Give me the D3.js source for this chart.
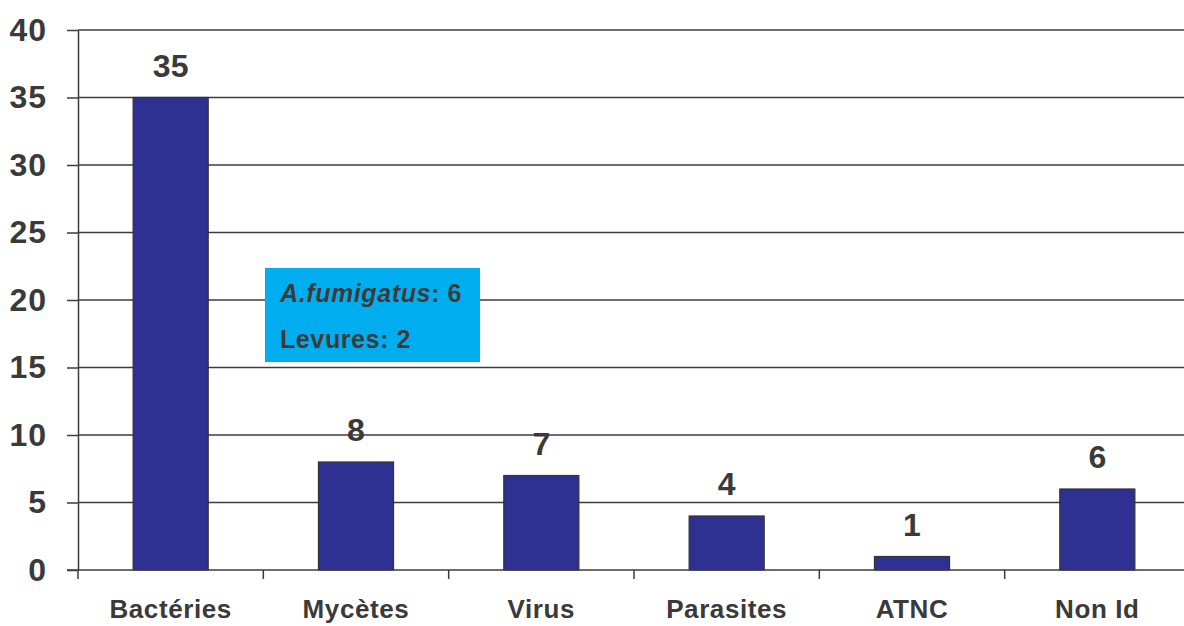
<!DOCTYPE html>
<html>
<head>
<meta charset="utf-8">
<script src="https://cdn.jsdelivr.net/npm/d3@7"></script>
<style>
  body { margin: 0; background: #fff; }
  svg { display: block; font-family: "Liberation Sans", Arial, sans-serif; }
</style>
</head>
<body>
<svg></svg>
<script>
let categories = ["Bactéries", "Mycètes", "Virus", "Parasites", "ATNC", "Non Id"];
let counts = [35, 8, 7, 4, 1, 6];
let yTicks = [0, 5, 10, 15, 20, 25, 30, 35, 40];
let noteLines = [
  { italic: "A.fumigatus", rest: ": 6" },
  { italic: "", rest: "Levures: 2" }
];

let width = 1184;
let height = 626;
let plotLeft = 78;
let plotRight = 1190;
let plotTop = 30;
let plotBottom = 570;
let textColor = "#3a3a3a";
let lineColor = "#3c3c3c";

let svg = d3.select("svg")
  .attr("width", width)
  .attr("height", height);

let xScale = d3.scaleBand()
  .domain(categories)
  .range([plotLeft, plotRight])
  .paddingInner(0.595)
  .paddingOuter(0.2975);

let xEdges = d3.scaleBand()
  .domain(categories)
  .range([plotLeft, plotRight]);

let yScale = d3.scaleLinear()
  .domain([0, 40])
  .range([plotBottom, plotTop]);

// gridlines
svg.append("g")
  .selectAll("line")
  .data(yTicks.filter(d => d > 0))
  .enter()
  .append("line")
  .attr("x1", plotLeft)
  .attr("x2", plotRight)
  .attr("y1", d => yScale(d))
  .attr("y2", d => yScale(d))
  .attr("stroke", lineColor)
  .attr("stroke-width", 1.5);

// bars
svg.append("g")
  .selectAll("rect")
  .data(counts)
  .enter()
  .append("rect")
  .attr("x", (d, i) => xScale(categories[i]))
  .attr("width", xScale.bandwidth())
  .attr("y", d => yScale(d))
  .attr("height", d => plotBottom - yScale(d))
  .attr("fill", "#2e3192")
  .attr("stroke", "#333")
  .attr("stroke-width", 1.2);

// value labels
svg.append("g")
  .selectAll("text")
  .data(counts)
  .enter()
  .append("text")
  .attr("x", (d, i) => xScale(categories[i]) + xScale.bandwidth() / 2)
  .attr("y", d => yScale(d) - 21)
  .attr("text-anchor", "middle")
  .attr("font-size", 32)
  .attr("font-weight", "bold")
  .attr("fill", textColor)
  .text(d => d);

// y axis
let yAxis = d3.axisLeft(yScale)
  .tickValues(yTicks)
  .tickSize(11)
  .tickPadding(20)
  .tickSizeOuter(0);

let gy = svg.append("g")
  .attr("transform", "translate(" + plotLeft + ",0)")
  .call(yAxis);
gy.select(".domain").attr("stroke", lineColor).attr("stroke-width", 1.5);
gy.selectAll(".tick line").attr("stroke", lineColor).attr("stroke-width", 1.5);
gy.selectAll("text")
  .attr("font-size", 32)
  .attr("font-weight", "bold")
  .attr("letter-spacing", 1)
  .attr("font-family", "Liberation Sans, Arial, sans-serif")
  .attr("fill", textColor);

// x axis line and ticks at band edges
svg.append("line")
  .attr("x1", plotLeft - 11)
  .attr("x2", plotRight)
  .attr("y1", plotBottom)
  .attr("y2", plotBottom)
  .attr("stroke", lineColor)
  .attr("stroke-width", 1.5);

svg.append("g")
  .selectAll("line")
  .data(categories)
  .enter()
  .append("line")
  .attr("x1", d => xEdges(d))
  .attr("x2", d => xEdges(d))
  .attr("y1", plotBottom)
  .attr("y2", plotBottom + 9)
  .attr("stroke", lineColor)
  .attr("stroke-width", 1.5);

svg.append("g")
  .selectAll("text")
  .data(categories)
  .enter()
  .append("text")
  .attr("x", d => xScale(d) + xScale.bandwidth() / 2)
  .attr("y", plotBottom + 48)
  .attr("text-anchor", "middle")
  .attr("font-size", 26)
  .attr("font-weight", "bold")
  .attr("letter-spacing", 0.6)
  .attr("fill", textColor)
  .text(d => d);

// annotation box
let note = svg.append("g");
note.append("rect")
  .attr("x", 265)
  .attr("y", 268)
  .attr("width", 215)
  .attr("height", 94)
  .attr("fill", "#00aeef");

let noteText = note.selectAll("text")
  .data(noteLines)
  .enter()
  .append("text")
  .attr("x", 280)
  .attr("y", (d, i) => 302 + i * 46)
  .attr("font-size", 25)
  .attr("font-weight", "bold")
  .attr("letter-spacing", 0.6)
  .attr("fill", textColor);
noteText.append("tspan")
  .attr("font-style", "italic")
  .text(d => d.italic);
noteText.append("tspan")
  .text(d => d.rest);
</script>
</body>
</html>
